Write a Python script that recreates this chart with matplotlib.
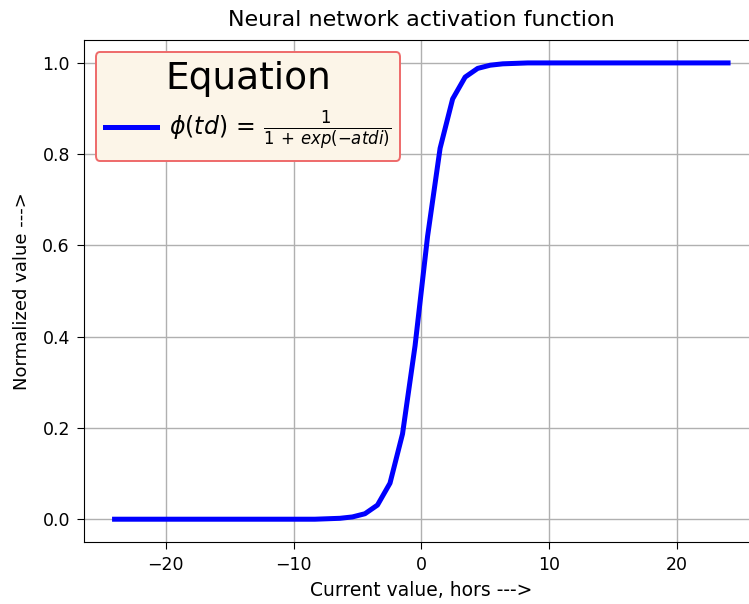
import matplotlib
matplotlib.use('Agg')
import matplotlib.pyplot as plt

# sample points of the activation curve
current_value = [-24.00, -23.02, -22.04, -21.06, -20.08, -19.10, -18.12, -17.14,
                 -16.16, -15.18, -14.20, -13.22, -12.24, -11.27, -10.29, -9.31,
                 -8.33, -7.35, -6.37, -5.39, -4.41, -3.43, -2.45, -1.47,
                 -0.49, 0.49, 1.47, 2.45, 3.43, 4.41, 5.39, 6.37,
                 7.35, 8.33, 9.31, 10.29, 11.27, 12.24, 13.22, 14.20,
                 15.18, 16.16, 17.14, 18.12, 19.10, 20.08, 21.06, 22.04,
                 23.02, 24.00]
normalized_value = [0.0, 0.0, 0.0, 0.0, 0.0, 0.0, 0.0, 0.0,
                    0.0, 0.0, 0.0, 0.0, 0.0, 0.0, 0.0, 0.0,
                    0.0, 0.001, 0.002, 0.005, 0.012, 0.031, 0.079, 0.187,
                    0.38, 0.62, 0.813, 0.921, 0.969, 0.988, 0.995, 0.998,
                    0.999, 1.0, 1.0, 1.0, 1.0, 1.0, 1.0, 1.0,
                    1.0, 1.0, 1.0, 1.0, 1.0, 1.0, 1.0, 1.0,
                    1.0, 1.0]

fig = plt.figure(figsize=(7.49, 6.04), dpi=100)
ax = fig.add_axes([0.112, 0.1026, 0.901, 0.831])

ax.plot(current_value, normalized_value, color='blue', linewidth=3.6,
        label=r'$\phi(td)\,=\,\frac{1}{1\,+\,exp(-atdi)}$')
ax.grid(True, color='#b0b0b0', linewidth=1.0)

ax.set_title('Neural network activation function', fontsize=16, pad=10)
ax.set_xlabel('Current value, hors --->', fontsize=13.5, labelpad=5)
ax.set_ylabel('Normalized value --->', fontsize=13, labelpad=8)
ax.tick_params(labelsize=12.5, length=5, pad=5)

leg = ax.legend(loc='upper left', title='Equation', fontsize=17,
                title_fontsize=27, fancybox=True, framealpha=1,
                handlelength=2.2, handletextpad=0.5, borderaxespad=0.5)
leg.get_frame().set_facecolor('#fcf5e8')
leg.get_frame().set_edgecolor('#ee6a6a')
leg.get_frame().set_linewidth(1.4)

fig.savefig('out.png', dpi=100)
